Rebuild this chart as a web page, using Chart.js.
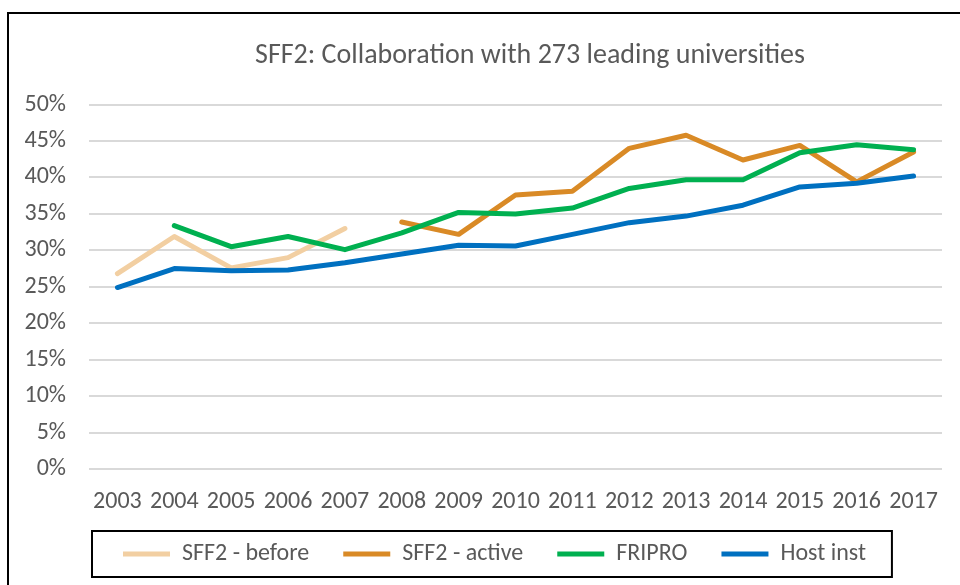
<!DOCTYPE html>
<html>
<head>
<meta charset="utf-8">
<script src="https://cdn.jsdelivr.net/npm/chart.js@4"></script>
<style>
    body { margin: 0; background: #fff; overflow: hidden; }
    #frame {
        position: absolute; left: 7px; top: 12px; width: 1000px; height: 1000px;
        border: 2px solid #000; box-shadow: 1px 1px 1px #bbb;
    }
    #chart { position: absolute; left: 0; top: 0; }
</style>
</head>
<body>
<div id="frame"></div>
<!-- the original chart is wider than the window and gets cut off on the right -->
<canvas id="chart" width="1060" height="585"></canvas>
<script>
// Chart data
const years = ['2003', '2004', '2005', '2006', '2007', '2008', '2009', '2010',
    '2011', '2012', '2013', '2014', '2015', '2016', '2017'];
const sff2Before = [26.8, 31.9, 27.6, 29.0, 33.0, null, null, null, null, null, null, null, null, null, null];
const sff2Active = [null, null, null, null, null, 33.9, 32.2, 37.6, 38.1, 44.0, 45.8, 42.4, 44.4, 39.4, 43.5];
const fripro = [null, 33.4, 30.5, 31.9, 30.1, 32.4, 35.2, 35.0, 35.8, 38.5, 39.7, 39.7, 43.4, 44.5, 43.8];
const hostInst = [24.9, 27.5, 27.2, 27.3, 28.3, 29.5, 30.7, 30.6, 32.2, 33.8, 34.7, 36.2, 38.7, 39.2, 40.2];

const fontFamily = 'Carlito, Calibri, "Open Sans", sans-serif';
const textColor = '#595959';

function lineSet(label, data, color, order) {
    return {
        label: label,
        data: data,
        borderColor: color,
        backgroundColor: color,
        borderWidth: 5,
        borderCapStyle: 'round',
        borderJoinStyle: 'round',
        pointRadius: 0,
        tension: 0,
        order: order
    };
}

// Box around the legend
const legendFrame = {
    id: 'legendFrame',
    afterDraw(chart) {
        const lg = chart.legend;
        if (!lg || !lg.legendHitBoxes.length) return;
        const boxes = lg.legendHitBoxes;
        const left = Math.min(...boxes.map(b => b.left)) - 31;
        const right = Math.max(...boxes.map(b => b.left + b.width)) + 26;
        const top = boxes[0].top - 11;
        const bottom = boxes[0].top + boxes[0].height + 11;
        const ctx = chart.ctx;
        ctx.save();
        ctx.strokeStyle = '#000';
        ctx.lineWidth = 2;
        ctx.strokeRect(left, top, right - left, bottom - top);
        ctx.restore();
    }
};

const ctx = document.getElementById('chart').getContext('2d');
new Chart(ctx, {
    type: 'line',
    data: {
        labels: years,
        datasets: [
            lineSet('SFF2 - before', sff2Before, '#F2CFA2', 4),
            lineSet('SFF2 - active', sff2Active, '#D98A26', 3),
            lineSet('FRIPRO', fripro, '#00B050', 2),
            lineSet('Host inst', hostInst, '#0070C0', 1)
        ]
    },
    options: {
        responsive: false,
        animation: false,
        layout: { padding: { left: 0, right: 0, top: 14, bottom: 9 } },
        plugins: {
            title: {
                display: true,
                text: 'SFF2: Collaboration with 273 leading universities',
                color: textColor,
                font: { family: fontFamily, size: 28, weight: 'normal', lineHeight: 1.2 },
                padding: { top: 25, bottom: 32 }
            },
            legend: {
                position: 'bottom',
                align: 'start',
                fullSize: false,
                labels: {
                    color: textColor,
                    font: { family: fontFamily, size: 24 },
                    usePointStyle: true,
                    pointStyle: 'line',
                    pointStyleWidth: 47,
                    boxHeight: 5,
                    padding: 34,
                    sort: (a, b) => a.datasetIndex - b.datasetIndex
                }
            },
            tooltip: { enabled: false }
        },
        scales: {
            x: {
                offset: true,
                grid: { display: false, drawTicks: false },
                border: { display: false },
                ticks: {
                    color: textColor,
                    font: { family: fontFamily, size: 24 },
                    padding: 19,
                    maxRotation: 0,
                    autoSkip: false
                },
                afterFit: (scale) => { scale.height = 39; }
            },
            y: {
                min: 0,
                max: 50,
                grid: { color: '#D9D9D9', lineWidth: 2, drawTicks: false },
                border: { display: false },
                ticks: {
                    stepSize: 5,
                    color: textColor,
                    font: { family: fontFamily, size: 24 },
                    padding: 23,
                    callback: (v) => v + '%'
                },
                afterFit: (scale) => { scale.width = 89; }
            },
            yRight: {
                position: 'right',
                grid: { display: false, drawTicks: false },
                border: { display: false },
                ticks: { display: false },
                afterFit: (scale) => { scale.width = 118; }
            }
        }
    },
    plugins: [legendFrame]
});
</script>
</body>
</html>
